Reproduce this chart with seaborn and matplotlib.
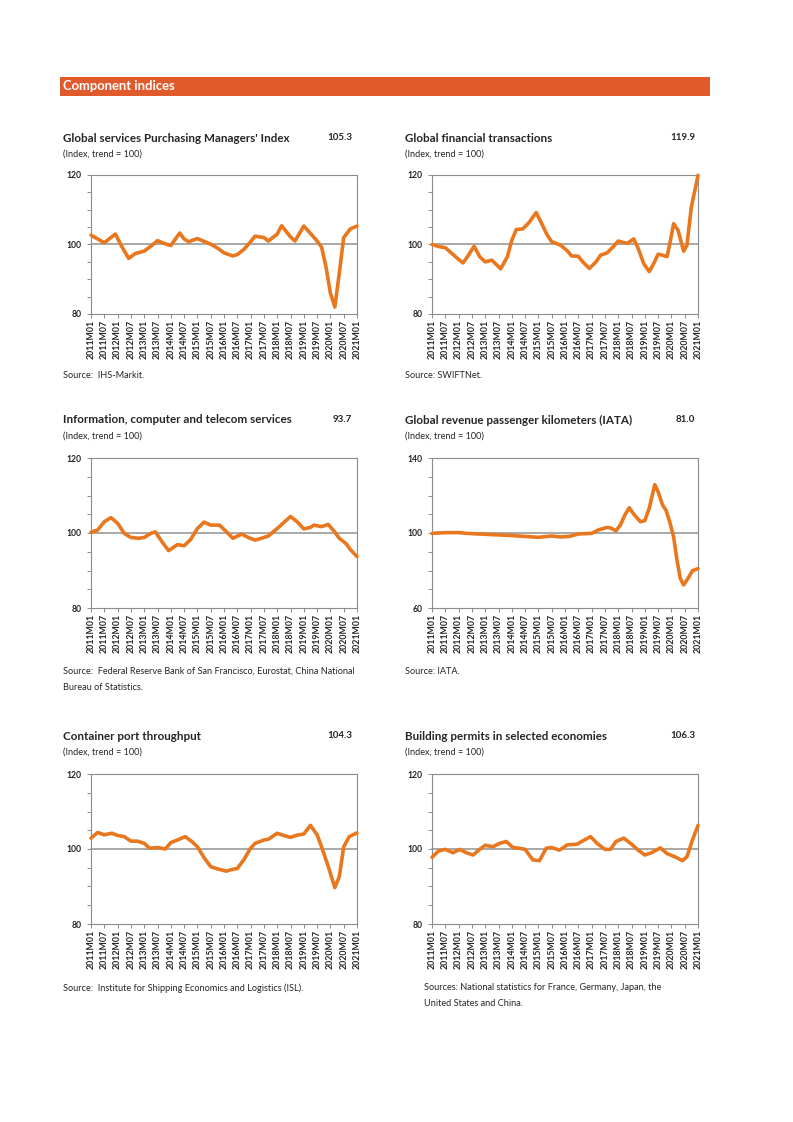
import numpy as np
import pandas as pd
import seaborn as sns
import matplotlib.pyplot as plt

# months counted from 2011M01 (0) to 2021M01 (120)
pmi_m = [0, 6, 11, 14, 17, 20, 24, 27, 30, 33, 36, 39, 40, 42, 44, 48, 54, 57, 60, 64, 66, 69,
         72, 74, 78, 80, 84, 86, 90, 92, 96, 99, 102, 104, 106, 108, 110, 112, 114, 117, 120]
pmi_v = [102.7, 100.5, 103.0, 99.3, 96.0, 97.4, 98.1, 99.5, 101.1, 100.3, 99.7, 102.4, 103.3, 101.6, 100.8,
         101.7, 100.1, 99.0, 97.6, 96.7, 97.1, 98.6, 100.8, 102.4, 102.0, 101.0, 103.0, 105.4, 102.2, 101.0,
         105.3, 103.2, 101.0, 99.3, 93.6, 86.0, 82.0, 91.7, 102.0, 104.5, 105.3]

fin_m = [0, 3, 6, 9, 12, 14, 16, 19, 21.5, 24, 27, 31, 34, 36, 38, 41, 44, 47, 49.5, 52, 54, 58, 61,
         63, 66, 68, 71, 74, 76, 79, 82, 84, 88, 91, 93, 95.5, 98, 100, 102, 104, 106, 107, 109, 111,
         113.5, 115, 117, 120]
fin_v = [100.0, 99.4, 99.1, 97.4, 95.7, 94.7, 96.5, 99.5, 96.5, 95.0, 95.5, 93.0, 96.5, 101.2, 104.3,
         104.5, 106.5, 109.2, 106.0, 102.7, 100.8, 99.8, 98.2, 96.7, 96.6, 95.0, 93.1, 95.0, 96.9, 97.6,
         99.5, 101.0, 100.3, 101.6, 98.9, 94.5, 92.2, 94.5, 97.2, 96.9, 96.5, 99.3, 106.0, 104.1, 98.1,
         99.8, 110.8, 119.9]

ict_m = [0, 3, 6, 9, 12, 15, 18, 21.5, 24, 27, 29, 32, 35, 39, 42, 45, 48, 51, 54, 58, 61, 64, 68,
         71, 74, 77, 80, 84, 87, 90, 93, 96, 99, 100.5, 104, 107, 109.5, 112, 115, 117, 120]
ict_v = [100.2, 100.8, 103.0, 104.1, 102.6, 99.9, 98.8, 98.6, 98.8, 99.9, 100.3, 97.7, 95.3, 96.9,
         96.6, 98.3, 101.2, 102.9, 102.1, 102.1, 100.4, 98.6, 99.7, 98.8, 98.1, 98.6, 99.2, 101.2, 102.8,
         104.4, 103.0, 101.1, 101.5, 102.1, 101.7, 102.3, 100.6, 98.6, 97.2, 95.6, 93.7]

rpk_m = [0, 6, 12.5, 15.5, 24.5, 36.5, 48, 54, 58, 62, 66, 72, 75, 79, 80.5, 83, 85, 87, 89, 91, 94,
         96, 98, 100.5, 102, 104, 105.5, 107, 109, 110.5, 112, 113.5, 115.5, 117.5, 120]
rpk_v = [99.8, 100.2, 100.2, 99.8, 99.3, 98.6, 97.7, 98.4, 97.9, 98.2, 99.5, 99.8, 101.6, 103.0,
         102.7, 101.2, 104.3, 109.6, 113.5, 110.1, 106.0, 106.6, 113.2, 125.8, 122.0, 114.9, 112.3, 106.9,
         98.0, 85.6, 75.8, 72.3, 75.8, 79.9, 81.0]

port_m = [0, 3, 6, 9.5, 12, 15, 18, 21, 24, 26.5, 30, 33.5, 36, 39, 42.5, 45.5, 48, 51, 54, 57, 61,
          64, 66, 69, 72, 74, 78, 80, 84, 87, 90, 93, 96, 99, 102, 104, 107, 110, 112, 114, 116.5, 120]
port_v = [102.9, 104.4, 103.8, 104.2, 103.6, 103.3, 102.1, 102.1, 101.5, 100.2, 100.4, 100.0, 101.7,
          102.4, 103.3, 102.0, 100.6, 97.7, 95.3, 94.7, 94.1, 94.6, 94.8, 97.2, 100.2, 101.5, 102.4, 102.6,
          104.2, 103.6, 103.1, 103.7, 104.0, 106.3, 103.8, 100.6, 95.4, 89.7, 92.6, 100.6, 103.3, 104.3]

bld_m = [0, 3, 6, 9.5, 12.5, 15.5, 18.5, 21.5, 24, 27.5, 30.5, 33.5, 36.5, 39.5, 42, 45.5, 48.5, 51.5,
         54, 57.5, 61, 65.5, 67.5, 71.5, 74.5, 78, 80.5, 83, 86.5, 90, 93, 96, 99, 103, 106, 110, 113,
         115, 117.5, 120]
bld_v = [97.8, 99.5, 99.9, 99.0, 99.9, 99.0, 98.4, 99.9, 101.0, 100.6, 101.5, 102.0, 100.4, 100.2,
         99.9, 97.1, 96.9, 100.2, 100.4, 99.7, 101.1, 101.3, 102.0, 103.3, 101.5, 99.9, 99.9, 102.0, 102.9,
         101.3, 99.7, 98.4, 99.0, 100.3, 98.8, 97.8, 96.9, 97.9, 102.4, 106.3]

x_ticks = list(range(0, 121, 6))
x_labels = [f"{2011 + i // 12}M{'01' if i % 12 == 0 else '07'}" for i in x_ticks]

titles = ["Global services Purchasing Managers' Index", "Global financial transactions",
          "Information, computer and telecom services", "Global revenue passenger kilometers (IATA)",
          "Container port throughput", "Building permits in selected economies"]
latest = ["105.3", "119.9", "93.7", "81.0", "104.3", "106.3"]
sources = [["Source:  IHS-Markit."], ["Source: SWIFTNet."],
           ["Source:  Federal Reserve Bank of San Francisco, Eurostat, China National",
            "Bureau of Statistics."],
           ["Source: IATA."],
           ["Source:  Institute for Shipping Economics and Logistics (ISL)."],
           ["Sources: National statistics for France, Germany, Japan, the",
            "United States and China."]]
ylims = [(80, 120), (80, 120), (80, 120), (60, 140), (80, 120), (80, 120)]
series = [(pmi_m, pmi_v), (fin_m, fin_v), (ict_m, ict_v), (rpk_m, rpk_v), (port_m, port_v), (bld_m, bld_v)]

sns.set_style("white")
plt.rcParams['font.family'] = ['Lato', 'DejaVu Sans']

W, H = 793, 1122
fig = plt.figure(figsize=(W / 100, H / 100), dpi=100)

def px(x, y):
    return x / W, 1 - y / H

#header bar
fig.add_artist(plt.Rectangle(px(60, 96), 650 / W, 19 / H, transform=fig.transFigure,
                             color="#E05A2B", lw=0))
fig.text(*px(63, 86.5), "Component indices", color="white", fontsize=9.4, fontweight="bold", va="center")

line_col = "#E8771E"
grey = "#8C8C8C"
cols = [(63, 352, 91, 357, 63), (405, 695, 432, 698, 405)]
rows = [(138, 175, 314, 375), (420, 458, 608, 671), (736, 774, 924, 988)]

for k in range(6):
    r, c = k // 2, k % 2
    tx, vx, left, right, sx = cols[c]
    ty, top, bot, sy = rows[r]
    if k == 5:
        sx = 424
    fig.text(*px(tx, ty), titles[k], fontsize=8.4, fontweight="bold", va="center")
    fig.text(*px(vx, ty), latest[k], fontsize=7, fontweight="bold", va="center", ha="right")
    fig.text(*px(tx, ty + 16), "(Index, trend = 100)", fontsize=6.6, va="center")
    for j, s in enumerate(sources[k]):
        fig.text(*px(sx, sy + 16 * j), s, fontsize=6.6, va="center")

    ax = fig.add_axes([left / W, 1 - bot / H, (right - left) / W, (bot - top) / H])
    m, v = series[k]
    df = pd.DataFrame({"month": m, "value": v})
    lo, hi = ylims[k]
    ax.axhline(100, color="#999999", lw=1.2, zorder=1)
    sns.lineplot(data=df, x="month", y="value", ax=ax, color=line_col, lw=2.6, zorder=3)
    for ln in ax.lines:
        ln.set_solid_joinstyle("round")
        ln.set_clip_on(False)
    ax.set_xlim(0, 120)
    ax.set_ylim(lo, hi)
    ax.set_xlabel("")
    ax.set_ylabel("")
    ax.set_yticks([lo, 100, hi])
    ax.set_yticks(np.arange(lo, hi + 0.1, (hi - lo) / 8), minor=True)
    ax.set_yticklabels([str(lo), "100", str(hi)], fontsize=6.2, fontweight="bold")
    ax.set_xticks(x_ticks)
    ax.set_xticklabels(x_labels, rotation=90, fontsize=6.3, fontweight="bold")
    ax.tick_params(axis="both", which="both", direction="out", length=3, width=0.7, color=grey,
                   pad=1.5, left=True, bottom=True)
    ax.tick_params(axis="y", which="major", pad=4)
    for sp in ax.spines.values():
        sp.set_color(grey)
        sp.set_linewidth(0.8)

plt.savefig("out.png", dpi=100, facecolor="white")
plt.close()
